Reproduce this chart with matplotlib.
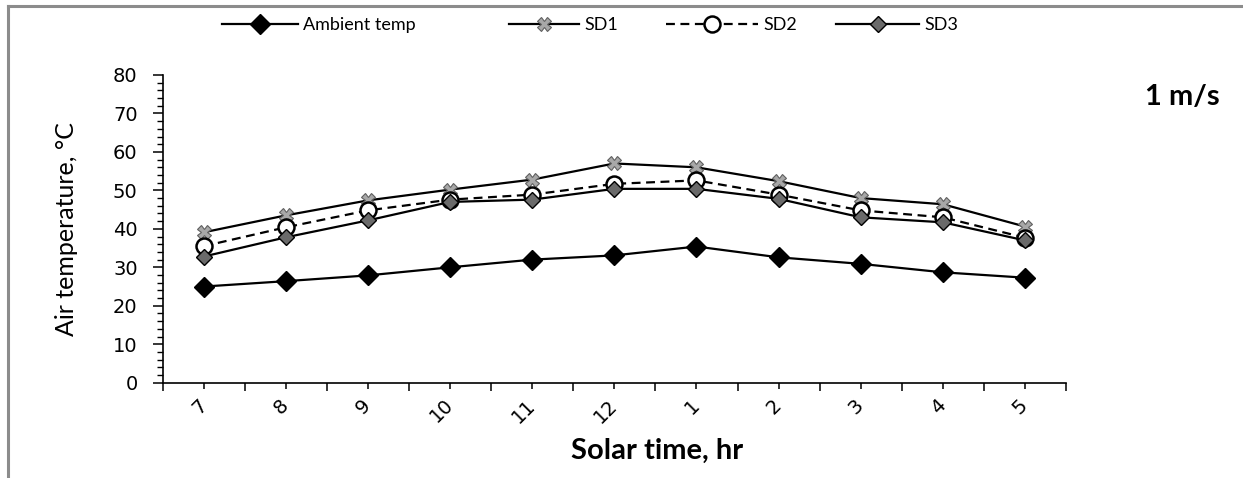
import numpy as np
import matplotlib
matplotlib.use("Agg")
import matplotlib.pyplot as plt
from matplotlib.lines import Line2D
from matplotlib.ticker import MultipleLocator, FixedLocator

# values
hours = ["7", "8", "9", "10", "11", "12", "1", "2", "3", "4", "5"]
ambient = [25.0, 26.4, 27.9, 30.0, 32.0, 33.1, 35.4, 32.6, 30.9, 28.7, 27.3]
sd1 = [39.1, 43.5, 47.4, 50.2, 52.8, 57.0, 56.0, 52.4, 48.0, 46.4, 40.6]
sd2 = [35.5, 40.4, 44.8, 47.6, 48.9, 51.7, 52.6, 48.9, 44.8, 43.0, 37.7]
sd3 = [32.8, 37.8, 42.2, 47.0, 47.6, 50.4, 50.4, 47.8, 43.0, 41.7, 37.0]

W, H = 1243, 478
fig = plt.figure(figsize=(W / 100, H / 100), dpi=100)
ax = fig.add_axes([162.7 / W, 1 - 382.7 / H, (1066 - 162.7) / W, (382.7 - 75) / H])

x = np.arange(len(hours))
lw = 1.6
h_amb, = ax.plot(x, ambient, color="black", lw=lw, marker="D", ms=10,
                 mfc="black", mec="black", label="Ambient temp", zorder=3)
h_sd1, = ax.plot(x, sd1, color="black", lw=lw, marker="X", ms=10,
                 mfc="#a8a8a8", mec="#606060", mew=0.8, label="SD1", zorder=4)
h_sd2, = ax.plot(x, sd2, color="black", lw=lw, ls=(0, (4, 2.5)), marker="o", ms=11.5,
                 mfc="white", mec="black", mew=1.8, label="SD2", zorder=5)
h_sd3, = ax.plot(x, sd3, color="black", lw=lw, marker="D", ms=8.5,
                 mfc="#6a6a6a", mec="black", mew=1.0, label="SD3", zorder=6)

ax.set_xlim(-0.5, len(hours) - 0.5)
ax.set_ylim(0, 80)

# y axis: majors every 10, minors every 2
ax.yaxis.set_major_locator(MultipleLocator(10))
ax.yaxis.set_minor_locator(MultipleLocator(2))
ax.tick_params(axis="y", which="major", direction="out", length=7, width=1.1, pad=11,
               labelsize=14)
ax.tick_params(axis="y", which="minor", direction="out", length=4.5, width=1.0)

# x axis: labels at the categories, longer ticks at the boundaries
ax.xaxis.set_major_locator(FixedLocator(x))
ax.xaxis.set_minor_locator(FixedLocator(np.arange(-0.5, len(hours), 1.0)))
ax.set_xticklabels(hours)
ax.tick_params(axis="x", which="major", direction="out", length=4, width=1.1, pad=10,
               labelsize=14)
ax.tick_params(axis="x", which="minor", direction="out", length=5.5, width=1.1)
for lab in ax.get_xticklabels():
    lab.set_rotation(45)
    lab.set_ha("right")
    lab.set_va("center")
    lab.set_rotation_mode("anchor")

for side in ["top", "right"]:
    ax.spines[side].set_visible(False)
for side in ["left", "bottom"]:
    ax.spines[side].set_linewidth(1.2)

ax.set_ylabel("Air temperature, \u00b0C", fontsize=18, family="Lato")
ax.yaxis.set_label_coords(-0.094, 0.5)
ax.set_xlabel("Solar time, hr", fontsize=21, family="Lato", fontweight="bold")
ax.xaxis.set_label_coords(0.547, -0.18)

# legend entries placed one by one like the original
entries = [(h_amb, "Ambient temp", 222, 4.2),
           (h_sd1, "SD1", 509, 3.9),
           (h_sd2, "SD2", 666, 5.1),
           (h_sd3, "SD3", 836, 4.6)]
for handle, text, x0, hl in entries:
    fig.legend(handles=[handle], labels=[text], loc="center left",
               bbox_to_anchor=(x0 / W, 1 - 25 / H), frameon=False,
               borderpad=0, borderaxespad=0, handlelength=hl, handletextpad=0.3,
               prop={"family": "Lato", "size": 13})

fig.text(1182 / W, 1 - 97 / H, "1 m/s", ha="center", va="center",
         fontsize=21, fontweight="bold", family="Lato")

# grey frame on the top and left of the picture
fig.add_artist(Line2D([8 / W, 8 / W], [0, 1 - 6 / H], color="#8c8c8c", lw=2.2))
fig.add_artist(Line2D([8 / W, 1], [1 - 6 / H, 1 - 6 / H], color="#8c8c8c", lw=2.2))

fig.savefig("out.png", dpi=100)
